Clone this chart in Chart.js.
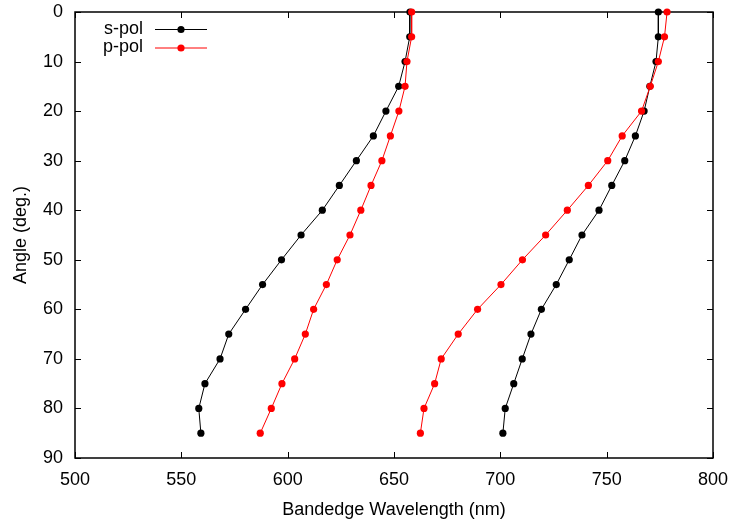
<!DOCTYPE html>
<html>
<head>
<meta charset="utf-8">
<script src="https://cdn.jsdelivr.net/npm/chart.js@4"></script>
<style>
  html, body { margin: 0; padding: 0; background: #fff; }
  #wrap { width: 730px; height: 521px; }
</style>
</head>
<body>
<div id="wrap"><canvas id="chart" width="730" height="521"></canvas></div>
<script>
// incidence angle (deg.)
const angles = [0, 5, 10, 15, 20, 25, 30, 35, 40, 45, 50, 55, 60, 65, 70, 75, 80, 85];

// bandedge wavelengths (nm), short and long edge for each polarisation
const sPolShort = [657.5, 657.4, 655.2, 652.2, 646.2, 640.3, 632.3, 624.3, 616.3, 606.3, 597.1, 588.2, 580.2, 572.3, 568.2, 561.1, 558.2, 559.2];
const sPolLong  = [774.3, 774.3, 773.2, 770.3, 767.6, 763.5, 758.5, 752.4, 746.4, 738.4, 732.4, 726.3, 719.3, 714.4, 710.3, 706.3, 702.3, 701.2];
const pPolShort = [658.3, 658.3, 656.1, 655.2, 652.3, 648.3, 644.3, 639.2, 634.4, 629.3, 623.3, 618.2, 612.2, 608.3, 603.3, 597.3, 592.3, 587.1];
const pPolLong  = [778.4, 777.2, 774.3, 770.5, 766.4, 757.3, 750.5, 741.4, 731.5, 721.3, 710.4, 700.3, 689.3, 680.2, 672.2, 669.1, 664.1, 662.4];

const xTicks = [500, 550, 600, 650, 700, 750, 800];
const yTicks = [0, 10, 20, 30, 40, 50, 60, 70, 80, 90];

const seriesNames = ['s-pol', 'p-pol'];
const seriesColors = ['#000000', '#ff0000'];

const FONT = '"Liberation Sans", Arial, Helvetica, sans-serif';

function toPoints(xs) {
    return xs.map((x, i) => ({ x: x, y: angles[i] }));
}

function makeSet(label, xs, color) {
    return {
        label: label,
        data: toPoints(xs),
        showLine: true,
        borderColor: color,
        backgroundColor: color,
        borderWidth: 1,
        pointRadius: 3.6,
        pointHoverRadius: 3.6,
        pointBorderWidth: 0,
        clip: false
    };
}

// gnuplot-like frame with inward ticks on all four sides
const framePlugin = {
    id: 'frame',
    beforeDatasetsDraw(chart) {
        const ctx = chart.ctx;
        const a = chart.chartArea;
        const xs = chart.scales.x;
        const ys = chart.scales.y;
        const len = 6;
        ctx.save();
        ctx.strokeStyle = '#000';
        ctx.lineWidth = 1;
        ctx.beginPath();
        xTicks.forEach(v => {
            const px = Math.round(xs.getPixelForValue(v)) + 0.5;
            ctx.moveTo(px, a.bottom); ctx.lineTo(px, a.bottom - len);
            ctx.moveTo(px, a.top); ctx.lineTo(px, a.top + len);
        });
        yTicks.forEach(v => {
            const py = Math.round(ys.getPixelForValue(v)) + 0.5;
            ctx.moveTo(a.left, py); ctx.lineTo(a.left + len, py);
            ctx.moveTo(a.right, py); ctx.lineTo(a.right - len, py);
        });
        ctx.stroke();
        ctx.lineWidth = 1.5;
        ctx.strokeRect(a.left, a.top, a.right - a.left, a.bottom - a.top);
        ctx.restore();
    }
};

// legend inside the plot, text on the left and sample on the right
const keyPlugin = {
    id: 'key',
    afterDraw(chart) {
        const ctx = chart.ctx;
        ctx.save();
        ctx.font = '18px ' + FONT;
        ctx.textAlign = 'right';
        ctx.textBaseline = 'middle';
        seriesNames.forEach((name, i) => {
            const y = 29 + i * 18.5;
            ctx.fillStyle = '#000';
            ctx.fillText(name, 143, y);
            ctx.strokeStyle = seriesColors[i];
            ctx.lineWidth = 1;
            ctx.beginPath();
            ctx.moveTo(155, y + 0.5);
            ctx.lineTo(207, y + 0.5);
            ctx.stroke();
            ctx.fillStyle = seriesColors[i];
            ctx.beginPath();
            ctx.arc(181, y + 0.5, 3.6, 0, Math.PI * 2);
            ctx.fill();
        });
        ctx.restore();
    }
};

const ctx = document.getElementById('chart').getContext('2d');
new Chart(ctx, {
    type: 'scatter',
    data: {
        datasets: [
            // p-pol listed first so it is painted over s-pol
            makeSet('p-pol', pPolShort, seriesColors[1]),
            makeSet('p-pol', pPolLong, seriesColors[1]),
            makeSet('s-pol', sPolShort, seriesColors[0]),
            makeSet('s-pol', sPolLong, seriesColors[0])
        ]
    },
    options: {
        responsive: false,
        animation: false,
        layout: { padding: { top: 12, right: 17, left: 0, bottom: 0 } },
        scales: {
            x: {
                type: 'linear',
                min: 500,
                max: 800,
                afterFit(scale) {
                    scale.height = 63;
                    scale.paddingLeft = 0;
                    scale.paddingRight = 0;
                },
                afterBuildTicks(scale) { scale.ticks = xTicks.map(v => ({ value: v })); },
                grid: { display: false, drawTicks: false },
                border: { display: false },
                ticks: {
                    padding: 11,
                    color: '#000',
                    font: { family: FONT, size: 18 },
                    maxRotation: 0
                },
                title: {
                    display: true,
                    text: 'Bandedge Wavelength (nm)',
                    color: '#000',
                    font: { family: FONT, size: 18 },
                    padding: { top: 4, bottom: 0 }
                }
            },
            y: {
                type: 'linear',
                reverse: true,
                min: 0,
                max: 90,
                afterFit(scale) {
                    scale.width = 75;
                    scale.paddingTop = 0;
                    scale.paddingBottom = 0;
                },
                afterBuildTicks(scale) { scale.ticks = yTicks.map(v => ({ value: v })); },
                grid: { display: false, drawTicks: false },
                border: { display: false },
                ticks: {
                    padding: 12,
                    color: '#000',
                    font: { family: FONT, size: 18 }
                },
                title: {
                    display: true,
                    text: 'Angle (deg.)',
                    color: '#000',
                    font: { family: FONT, size: 18 },
                    padding: { top: 10, bottom: 0 }
                }
            }
        },
        plugins: {
            legend: { display: false },
            tooltip: { enabled: false }
        }
    },
    plugins: [framePlugin, keyPlugin]
});
</script>
</body>
</html>
